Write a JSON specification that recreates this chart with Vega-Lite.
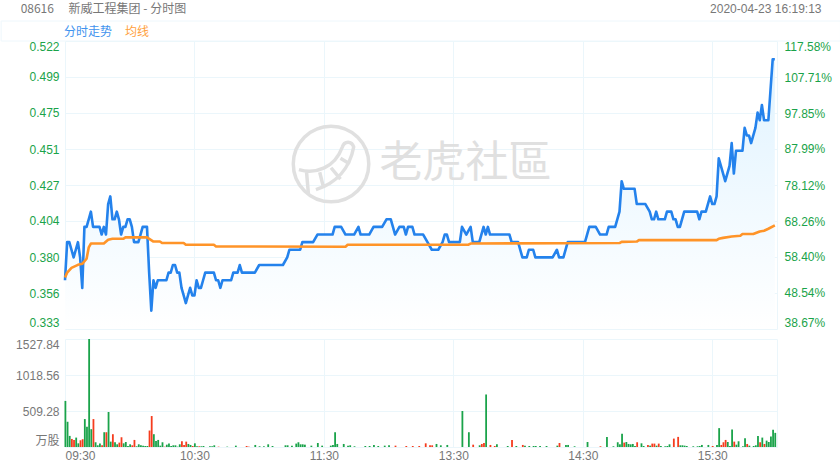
{
"$schema":"https://vega.github.io/schema/vega-lite/v6.json",
"padding":{"top":2,"left":0,"right":0,"bottom":0},
"background":"#ffffff",
"spacing":6,
"resolve":{"scale":{"color":"independent"}},
"title":{"text":"08616　   新威工程集团 - 分时图","anchor":"start","frame":"bounds","fontSize":12,"fontWeight":"normal","color":"#777777","font":"Noto Sans CJK SC","dx":20,"offset":-14},
"config":{"view":{"stroke":null},"font":"Liberation Sans"},
"datasets":{
"price":[{"m":0,"p":0.365},{"m":1,"p":0.39},{"m":2,"p":0.39},{"m":3,"p":0.385},{"m":4,"p":0.38},{"m":5,"p":0.385},{"m":6,"p":0.39},{"m":7,"p":0.38},{"m":8,"p":0.36},{"m":9,"p":0.4},{"m":10,"p":0.4},{"m":11,"p":0.405},{"m":12,"p":0.41},{"m":13,"p":0.4},{"m":16,"p":0.4},{"m":17,"p":0.395},{"m":18,"p":0.4},{"m":19,"p":0.395},{"m":20,"p":0.415},{"m":21,"p":0.42},{"m":22,"p":0.405},{"m":23,"p":0.405},{"m":24,"p":0.41},{"m":25,"p":0.405},{"m":26,"p":0.395},{"m":27,"p":0.4},{"m":28,"p":0.4},{"m":29,"p":0.405},{"m":30,"p":0.405},{"m":31,"p":0.4},{"m":32,"p":0.39},{"m":34,"p":0.39},{"m":35,"p":0.395},{"m":36,"p":0.4},{"m":38,"p":0.4},{"m":39,"p":0.37},{"m":40,"p":0.345},{"m":41,"p":0.365},{"m":42,"p":0.36},{"m":43,"p":0.365},{"m":47,"p":0.365},{"m":48,"p":0.37},{"m":49,"p":0.37},{"m":50,"p":0.375},{"m":51,"p":0.375},{"m":52,"p":0.37},{"m":53,"p":0.37},{"m":54,"p":0.36},{"m":55,"p":0.355},{"m":56,"p":0.35},{"m":57,"p":0.355},{"m":58,"p":0.36},{"m":59,"p":0.355},{"m":60,"p":0.355},{"m":61,"p":0.365},{"m":62,"p":0.36},{"m":63,"p":0.36},{"m":64,"p":0.365},{"m":65,"p":0.37},{"m":69,"p":0.37},{"m":70,"p":0.365},{"m":71,"p":0.365},{"m":72,"p":0.36},{"m":73,"p":0.365},{"m":77,"p":0.365},{"m":78,"p":0.37},{"m":80,"p":0.37},{"m":81,"p":0.375},{"m":82,"p":0.37},{"m":88,"p":0.37},{"m":90,"p":0.375},{"m":101,"p":0.375},{"m":103,"p":0.38},{"m":104,"p":0.385},{"m":109,"p":0.385},{"m":110,"p":0.39},{"m":115,"p":0.39},{"m":117,"p":0.395},{"m":124,"p":0.395},{"m":125,"p":0.4},{"m":128,"p":0.4},{"m":130,"p":0.395},{"m":134,"p":0.395},{"m":136,"p":0.4},{"m":137,"p":0.395},{"m":141,"p":0.395},{"m":143,"p":0.4},{"m":147,"p":0.4},{"m":149,"p":0.405},{"m":151,"p":0.405},{"m":153,"p":0.395},{"m":155,"p":0.4},{"m":157,"p":0.4},{"m":158,"p":0.395},{"m":159,"p":0.4},{"m":161,"p":0.4},{"m":162,"p":0.395},{"m":166,"p":0.395},{"m":168,"p":0.39},{"m":170,"p":0.385},{"m":173,"p":0.385},{"m":175,"p":0.39},{"m":176,"p":0.395},{"m":177,"p":0.395},{"m":178,"p":0.39},{"m":183,"p":0.39},{"m":184,"p":0.4},{"m":186,"p":0.395},{"m":188,"p":0.4},{"m":189,"p":0.39},{"m":192,"p":0.39},{"m":194,"p":0.4},{"m":195,"p":0.395},{"m":196,"p":0.4},{"m":197,"p":0.395},{"m":206,"p":0.395},{"m":207,"p":0.39},{"m":210,"p":0.39},{"m":212,"p":0.38},{"m":214,"p":0.38},{"m":215,"p":0.385},{"m":217,"p":0.385},{"m":218,"p":0.38},{"m":226,"p":0.38},{"m":228,"p":0.385},{"m":229,"p":0.38},{"m":231,"p":0.38},{"m":233,"p":0.39},{"m":241,"p":0.39},{"m":243,"p":0.4},{"m":246,"p":0.4},{"m":248,"p":0.395},{"m":251,"p":0.395},{"m":252,"p":0.4},{"m":255,"p":0.4},{"m":257,"p":0.41},{"m":258,"p":0.43},{"m":259,"p":0.425},{"m":264,"p":0.425},{"m":265,"p":0.415},{"m":269,"p":0.415},{"m":271,"p":0.41},{"m":272,"p":0.405},{"m":273,"p":0.405},{"m":274,"p":0.41},{"m":275,"p":0.405},{"m":278,"p":0.405},{"m":279,"p":0.41},{"m":281,"p":0.41},{"m":282,"p":0.405},{"m":283,"p":0.405},{"m":284,"p":0.4},{"m":285,"p":0.4},{"m":287,"p":0.41},{"m":293,"p":0.41},{"m":294,"p":0.405},{"m":295,"p":0.41},{"m":297,"p":0.41},{"m":299,"p":0.42},{"m":300,"p":0.415},{"m":301,"p":0.415},{"m":302,"p":0.42},{"m":303,"p":0.445},{"m":304,"p":0.44},{"m":306,"p":0.43},{"m":308,"p":0.44},{"m":309,"p":0.455},{"m":310,"p":0.435},{"m":311,"p":0.45},{"m":314,"p":0.45},{"m":315,"p":0.465},{"m":316,"p":0.46},{"m":317,"p":0.46},{"m":318,"p":0.455},{"m":320,"p":0.465},{"m":321,"p":0.475},{"m":322,"p":0.47},{"m":323,"p":0.48},{"m":324,"p":0.47},{"m":326,"p":0.47},{"m":327,"p":0.49},{"m":328,"p":0.51},{"m":329,"p":0.51}],
"average":[{"m":0,"a":0.3668},{"m":1,"a":0.37},{"m":3,"a":0.3731},{"m":6,"a":0.3751},{"m":8,"a":0.3758},{"m":10,"a":0.3791},{"m":11,"a":0.3865},{"m":12,"a":0.3891},{"m":18,"a":0.3891},{"m":20,"a":0.3916},{"m":22,"a":0.3922},{"m":27,"a":0.3922},{"m":28,"a":0.3931},{"m":38,"a":0.3931},{"m":41,"a":0.3904},{"m":44,"a":0.3904},{"m":45,"a":0.3894},{"m":55,"a":0.3894},{"m":56,"a":0.3883},{"m":69,"a":0.3883},{"m":70,"a":0.3872},{"m":130,"a":0.387},{"m":131,"a":0.3883},{"m":187,"a":0.3883},{"m":188,"a":0.3891},{"m":257,"a":0.3894},{"m":258,"a":0.3902},{"m":265,"a":0.3904},{"m":266,"a":0.3913},{"m":302,"a":0.3913},{"m":303,"a":0.3922},{"m":305,"a":0.3928},{"m":309,"a":0.3937},{"m":313,"a":0.3942},{"m":314,"a":0.3953},{"m":319,"a":0.3953},{"m":322,"a":0.397},{"m":324,"a":0.3975},{"m":326,"a":0.3988},{"m":329,"a":0.401}],
"volume":[{"m":0,"v":652,"d":"down"},{"m":1,"v":357,"d":"down"},{"m":2,"v":157,"d":"down"},{"m":3,"v":114,"d":"up"},{"m":4,"v":100,"d":"up"},{"m":5,"v":133,"d":"down"},{"m":6,"v":52,"d":"down"},{"m":7,"v":95,"d":"up"},{"m":8,"v":110,"d":"up"},{"m":9,"v":395,"d":"down"},{"m":10,"v":286,"d":"down"},{"m":11,"v":1528,"d":"down"},{"m":12,"v":252,"d":"down"},{"m":13,"v":395,"d":"up"},{"m":14,"v":67,"d":"down"},{"m":15,"v":24,"d":"down"},{"m":16,"v":48,"d":"down"},{"m":17,"v":24,"d":"up"},{"m":18,"v":209,"d":"down"},{"m":19,"v":209,"d":"up"},{"m":20,"v":495,"d":"down"},{"m":21,"v":76,"d":"down"},{"m":22,"v":181,"d":"up"},{"m":23,"v":67,"d":"down"},{"m":24,"v":38,"d":"down"},{"m":25,"v":62,"d":"up"},{"m":26,"v":138,"d":"up"},{"m":27,"v":52,"d":"down"},{"m":28,"v":71,"d":"down"},{"m":29,"v":14,"d":"down"},{"m":30,"v":38,"d":"down"},{"m":31,"v":24,"d":"up"},{"m":32,"v":100,"d":"up"},{"m":33,"v":10,"d":"down"},{"m":34,"v":38,"d":"down"},{"m":35,"v":24,"d":"down"},{"m":36,"v":19,"d":"down"},{"m":37,"v":14,"d":"down"},{"m":38,"v":14,"d":"down"},{"m":39,"v":233,"d":"up"},{"m":40,"v":438,"d":"up"},{"m":41,"v":181,"d":"down"},{"m":42,"v":86,"d":"down"},{"m":43,"v":100,"d":"down"},{"m":44,"v":19,"d":"down"},{"m":45,"v":67,"d":"down"},{"m":46,"v":5,"d":"up"},{"m":47,"v":33,"d":"down"},{"m":48,"v":48,"d":"down"},{"m":49,"v":14,"d":"down"},{"m":50,"v":24,"d":"down"},{"m":51,"v":24,"d":"down"},{"m":52,"v":5,"d":"down"},{"m":53,"v":38,"d":"down"},{"m":54,"v":81,"d":"up"},{"m":55,"v":29,"d":"up"},{"m":56,"v":76,"d":"up"},{"m":57,"v":43,"d":"down"},{"m":58,"v":29,"d":"down"},{"m":59,"v":14,"d":"up"},{"m":60,"v":52,"d":"down"},{"m":61,"v":10,"d":"down"},{"m":62,"v":10,"d":"up"},{"m":63,"v":10,"d":"down"},{"m":64,"v":14,"d":"down"},{"m":67,"v":10,"d":"down"},{"m":68,"v":10,"d":"down"},{"m":69,"v":24,"d":"down"},{"m":71,"v":5,"d":"up"},{"m":75,"v":5,"d":"down"},{"m":79,"v":19,"d":"down"},{"m":84,"v":14,"d":"up"},{"m":85,"v":5,"d":"up"},{"m":88,"v":29,"d":"down"},{"m":90,"v":10,"d":"down"},{"m":92,"v":10,"d":"down"},{"m":94,"v":38,"d":"down"},{"m":96,"v":14,"d":"down"},{"m":102,"v":24,"d":"down"},{"m":103,"v":24,"d":"down"},{"m":105,"v":19,"d":"down"},{"m":107,"v":48,"d":"down"},{"m":108,"v":67,"d":"down"},{"m":109,"v":38,"d":"down"},{"m":110,"v":38,"d":"down"},{"m":111,"v":33,"d":"down"},{"m":114,"v":19,"d":"down"},{"m":117,"v":57,"d":"down"},{"m":119,"v":19,"d":"down"},{"m":123,"v":19,"d":"down"},{"m":124,"v":29,"d":"down"},{"m":125,"v":209,"d":"down"},{"m":126,"v":43,"d":"down"},{"m":129,"v":43,"d":"down"},{"m":131,"v":19,"d":"down"},{"m":132,"v":24,"d":"down"},{"m":134,"v":10,"d":"down"},{"m":139,"v":14,"d":"down"},{"m":141,"v":14,"d":"down"},{"m":143,"v":29,"d":"down"},{"m":145,"v":14,"d":"down"},{"m":148,"v":19,"d":"down"},{"m":150,"v":24,"d":"down"},{"m":153,"v":19,"d":"up"},{"m":158,"v":14,"d":"up"},{"m":161,"v":14,"d":"up"},{"m":164,"v":14,"d":"up"},{"m":167,"v":52,"d":"up"},{"m":169,"v":24,"d":"up"},{"m":170,"v":24,"d":"up"},{"m":172,"v":43,"d":"down"},{"m":174,"v":24,"d":"down"},{"m":177,"v":29,"d":"down"},{"m":184,"v":509,"d":"down"},{"m":187,"v":209,"d":"down"},{"m":189,"v":33,"d":"up"},{"m":192,"v":24,"d":"down"},{"m":193,"v":43,"d":"up"},{"m":194,"v":57,"d":"up"},{"m":195,"v":743,"d":"down"},{"m":197,"v":29,"d":"up"},{"m":199,"v":14,"d":"up"},{"m":200,"v":38,"d":"down"},{"m":205,"v":14,"d":"down"},{"m":207,"v":100,"d":"up"},{"m":209,"v":14,"d":"down"},{"m":212,"v":29,"d":"up"},{"m":213,"v":19,"d":"down"},{"m":215,"v":14,"d":"down"},{"m":217,"v":14,"d":"down"},{"m":218,"v":14,"d":"down"},{"m":220,"v":14,"d":"down"},{"m":223,"v":14,"d":"down"},{"m":228,"v":19,"d":"down"},{"m":229,"v":57,"d":"up"},{"m":232,"v":29,"d":"down"},{"m":233,"v":29,"d":"down"},{"m":236,"v":10,"d":"down"},{"m":242,"v":71,"d":"down"},{"m":248,"v":10,"d":"up"},{"m":251,"v":143,"d":"down"},{"m":254,"v":10,"d":"down"},{"m":256,"v":67,"d":"down"},{"m":257,"v":38,"d":"down"},{"m":258,"v":186,"d":"down"},{"m":259,"v":62,"d":"up"},{"m":260,"v":71,"d":"down"},{"m":261,"v":43,"d":"down"},{"m":262,"v":38,"d":"down"},{"m":263,"v":43,"d":"down"},{"m":264,"v":14,"d":"down"},{"m":265,"v":67,"d":"up"},{"m":267,"v":52,"d":"down"},{"m":268,"v":14,"d":"down"},{"m":270,"v":29,"d":"up"},{"m":271,"v":19,"d":"down"},{"m":272,"v":48,"d":"up"},{"m":273,"v":48,"d":"up"},{"m":274,"v":19,"d":"down"},{"m":275,"v":48,"d":"up"},{"m":276,"v":14,"d":"down"},{"m":278,"v":10,"d":"down"},{"m":279,"v":14,"d":"down"},{"m":280,"v":38,"d":"down"},{"m":282,"v":119,"d":"up"},{"m":284,"v":143,"d":"up"},{"m":285,"v":24,"d":"down"},{"m":286,"v":24,"d":"down"},{"m":287,"v":19,"d":"down"},{"m":288,"v":14,"d":"down"},{"m":291,"v":10,"d":"down"},{"m":293,"v":10,"d":"down"},{"m":294,"v":14,"d":"down"},{"m":295,"v":29,"d":"down"},{"m":298,"v":29,"d":"down"},{"m":300,"v":14,"d":"up"},{"m":302,"v":29,"d":"down"},{"m":303,"v":267,"d":"down"},{"m":304,"v":29,"d":"up"},{"m":305,"v":67,"d":"up"},{"m":306,"v":100,"d":"up"},{"m":307,"v":71,"d":"down"},{"m":308,"v":14,"d":"down"},{"m":309,"v":248,"d":"down"},{"m":310,"v":76,"d":"up"},{"m":311,"v":33,"d":"down"},{"m":312,"v":81,"d":"down"},{"m":314,"v":10,"d":"down"},{"m":315,"v":124,"d":"down"},{"m":316,"v":43,"d":"up"},{"m":317,"v":19,"d":"down"},{"m":319,"v":14,"d":"down"},{"m":320,"v":24,"d":"down"},{"m":321,"v":157,"d":"down"},{"m":322,"v":67,"d":"up"},{"m":323,"v":133,"d":"down"},{"m":324,"v":43,"d":"up"},{"m":325,"v":90,"d":"down"},{"m":326,"v":71,"d":"down"},{"m":327,"v":148,"d":"down"},{"m":328,"v":243,"d":"down"},{"m":329,"v":200,"d":"down"}],
"pctAxis":[{"pct":38.67},{"pct":117.58}],
"headerBand":[{"x0":-29.6,"x1":359.4,"y0":0.522,"y1":0.5351}],
"watermark":[{"m":123.3,"y":0.4413,"label":"老虎社區","tm":185.6}]
},
"vconcat":[
{"width":712,"height":288,
"layer":[
{"layer":[
{"data":{"name":"headerBand"},"mark":{"type":"rect","fill":"#ffffff","stroke":"#eef7fc","strokeWidth":1,"clip":false},
 "encoding":{"x":{"field":"x0","type":"quantitative"},"x2":{"field":"x1"},"y":{"field":"y0","type":"quantitative"},"y2":{"field":"y1"}}},
{"data":{"name":"watermark"},"mark":{"type":"point","shape":"circle","filled":false,"size":5700,"stroke":"#e0e0e0","strokeWidth":3.5,"opacity":1},
 "encoding":{"x":{"field":"m","type":"quantitative"},"y":{"field":"y","type":"quantitative"}}},
{"data":{"name":"watermark"},"mark":{"type":"point","filled":false,"size":5700,"stroke":"#e0e0e0","strokeWidth":3.5,"opacity":1,
 "shape":"M -0.85 0.15 C -0.4 0.28 0.1 0.1 0.3 -0.45 C 0.35 -0.62 0.55 -0.62 0.6 -0.45 C 0.5 0.1 0.15 0.5 -0.4 0.68 M -0.65 0.2 L -0.6 0.78 M -0.3 0.22 L -0.2 0.62 M 0 0.1 L 0.25 0.4 M 0.25 -0.15 L 0.5 0"},
 "encoding":{"x":{"field":"m","type":"quantitative"},"y":{"field":"y","type":"quantitative"}}},
{"data":{"name":"watermark"},"mark":{"type":"text","font":"Noto Sans CJK TC","fontSize":43,"color":"#e0e0e0","baseline":"middle","align":"center"},
 "encoding":{"x":{"field":"tm","type":"quantitative"},"y":{"field":"y","type":"quantitative"},"text":{"field":"label"}}},
{"data":{"name":"price"},"mark":{"type":"area","line":false,"color":{"gradient":"linear","x1":0,"y1":0,"x2":0,"y2":1,"stops":[{"offset":0,"color":"#e0f3ff"},{"offset":1,"color":"#ffffff"}]}},
 "encoding":{"x":{"field":"m","type":"quantitative"},"y":{"field":"p","type":"quantitative"},"y2":{"datum":0.333}}},
{"data":{"name":"price"},"mark":{"type":"line","strokeWidth":2.6,"strokeJoin":"round"},
 "encoding":{"x":{"field":"m","type":"quantitative"},"y":{"field":"p","type":"quantitative"},"color":{"datum":"分时走势"}}},
{"data":{"name":"average"},"mark":{"type":"line","strokeWidth":2.6,"strokeJoin":"round"},
 "encoding":{"x":{"field":"m","type":"quantitative"},"y":{"field":"a","type":"quantitative"},"color":{"datum":"均线"}}}
],
"encoding":{
 "x":{"type":"quantitative","scale":{"domain":[0,330],"nice":false,"zero":false,"padding":0},
  "axis":{"orient":"top","values":[0,60,120,180,240,300,330],"labels":false,"ticks":false,"domain":false,"grid":true,"gridColor":"#ebf6fb","gridWidth":1,
   "title":"2020-04-23 16:19:13","titleFont":"Liberation Sans","titleFontSize":12,"titleFontWeight":"normal","titleColor":"#777777","titleAlign":"right","titleBaseline":"middle","titleX":756,"titleY":-33,"titleAnchor":null,"titleAngle":0}},
 "y":{"type":"quantitative","scale":{"domain":[0.333,0.522],"nice":false,"zero":false,"padding":0},
  "axis":{"orient":"left","title":null,"values":[0.333,0.3564,0.3802,0.4039,0.4274,0.4511,0.4748,0.4986,0.522],"format":".3f","grid":true,"gridColor":"#ebf6fb","gridWidth":1,"ticks":false,"domain":false,"labelColor":"#1aa34a","labelFontSize":12,"labelFont":"Liberation Sans","labelPadding":6,"labelFlush":true}},
 "color":{"type":"nominal","scale":{"domain":["分时走势","均线"],"range":["#2482ec","#ff9428"]},
  "legend":{"orient":"none","legendX":-13,"legendY":-15,"direction":"horizontal","title":null,"symbolSize":0,"symbolStrokeWidth":0,"labelFontSize":12,"labelFont":"Noto Sans CJK SC","labelOffset":0,"symbolOffset":0,"columnPadding":0,"padding":0,
   "encode":{"labels":{"update":{"fill":{"signal":"datum.label=='均线'?'#ff9f3d':'#3f93ee'"}}}}}}
}},
{"data":{"name":"pctAxis"},"mark":{"type":"point","opacity":0},
 "encoding":{"x":{"datum":0,"type":"quantitative"},
  "y":{"field":"pct","type":"quantitative","scale":{"domain":[38.67,117.58],"nice":false,"zero":false,"padding":0},
  "axis":{"orient":"right","title":null,"values":[38.67,48.54,58.4,68.26,78.12,87.99,97.85,107.71,117.58],"labelExpr":"format(datum.value,'.2f')+'%'","grid":false,"ticks":false,"domain":false,"labelColor":"#1aa34a","labelFontSize":12,"labelFont":"Liberation Sans","labelPadding":7,"labelFlush":true}}}}
],
"resolve":{"scale":{"y":"independent"}}
},
{"width":712,"height":108,
"data":{"name":"volume"},
"mark":{"type":"bar","size":1.8,"xOffset":0.4},
"encoding":{
 "x":{"field":"m","type":"quantitative","scale":{"domain":[0,330],"nice":false,"zero":false,"padding":0},
  "axis":{"title":null,"values":[0,60,120,180,240,300,330],"labelExpr":"datum.value==0?'09:30':datum.value==60?'10:30':datum.value==120?'11:30':datum.value==180?'13:30':datum.value==240?'14:30':datum.value==300?'15:30':''","labelFlush":true,"labelColor":"#777777","labelFontSize":12,"labelFont":"Liberation Sans","labelPadding":3,"ticks":false,"domain":false,"grid":true,"gridColor":"#ebf6fb","labelOverlap":false}},
 "y":{"field":"v","type":"quantitative","scale":{"domain":[0,1527.84],"nice":false},
  "axis":{"title":null,"values":[0,509.28,1018.56,1527.84],"labelExpr":"datum.value==0?'万股':format(datum.value,'.2f')","labelFlush":true,"labelColor":"#777777","labelFontSize":12,"labelFont":"Liberation Sans, Noto Sans CJK SC","labelPadding":6,"ticks":false,"domain":false,"grid":true,"gridColor":"#ebf6fb"}},
 "color":{"field":"d","type":"nominal","legend":null,"scale":{"domain":["down","up"],"range":["#1aa34a","#f53c1e"]}}
}}
]
}
